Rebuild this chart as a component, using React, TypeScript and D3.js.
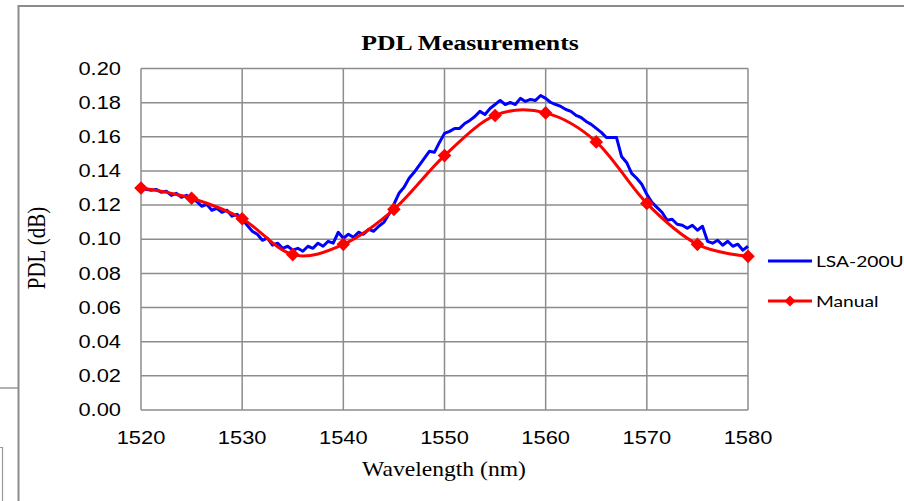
import React from "react";
import * as d3 from "d3";

const manualWavelengths = [1520, 1525, 1530, 1535, 1540, 1545, 1550, 1555, 1560, 1565, 1570, 1575, 1580];
const manualValues = [0.130, 0.124, 0.112, 0.091, 0.097, 0.1175, 0.149, 0.1725, 0.174, 0.157, 0.121, 0.097, 0.090];

const lsaStart = 1520;
const lsaStep = 0.5;
const lsaValues = [
  0.1310, 0.1292, 0.1287, 0.1292, 0.1275, 0.1281, 0.1257, 0.1269, 0.1246, 0.1257,
  0.1240, 0.1222, 0.1193, 0.1205, 0.1170, 0.1181, 0.1158, 0.1170, 0.1135, 0.1146,
  0.1117, 0.1082, 0.1047, 0.1029, 0.0994, 0.1006, 0.0965, 0.0977, 0.0947, 0.0959,
  0.0936, 0.0947, 0.0930, 0.0959, 0.0947, 0.0977, 0.0959, 0.0988, 0.0977, 0.1041,
  0.1006, 0.1029, 0.1012, 0.1041, 0.1029, 0.1058, 0.1047, 0.1076, 0.1099, 0.1146,
  0.1205, 0.1269, 0.1304, 0.1357, 0.1392, 0.1433, 0.1474, 0.1515, 0.1509, 0.1567,
  0.1620, 0.1632, 0.1649, 0.1649, 0.1678, 0.1696, 0.1719, 0.1749, 0.1731, 0.1766,
  0.1789, 0.1813, 0.1789, 0.1801, 0.1789, 0.1825, 0.1807, 0.1819, 0.1813, 0.1842,
  0.1825, 0.1801, 0.1789, 0.1778, 0.1760, 0.1749, 0.1725, 0.1713, 0.1690, 0.1673,
  0.1649, 0.1626, 0.1596, 0.1596, 0.1596, 0.1485, 0.1450, 0.1386, 0.1357, 0.1322,
  0.1263, 0.1216, 0.1187, 0.1158, 0.1111, 0.1117, 0.1088, 0.1082, 0.1064, 0.1082,
  0.1053, 0.1076, 0.0988, 0.0977, 0.0994, 0.0965, 0.0988, 0.0959, 0.0971, 0.0936,
  0.0959,
];

const xTicks = [1520, 1530, 1540, 1550, 1560, 1570, 1580];
const yTicks = [0, 0.02, 0.04, 0.06, 0.08, 0.10, 0.12, 0.14, 0.16, 0.18, 0.20];

const title = "PDL Measurements";
const xTitle = "Wavelength (nm)";
const yTitle = "PDL (dB)";
const seriesNames = ["LSA-200U", "Manual"];

const GRID = "#8c8c8c";

function StretchText(props: {
  x: number; y: number; anchor?: string; size: number; family: string; sx?: number;
  weight?: string; rotate?: number; children: React.ReactNode;
}) {
  const { x, y, anchor = "start", size, family, sx = 1.28, weight = "normal", rotate = 0, children } = props;
  return (
    <text
      transform={`translate(${x},${y}) scale(${sx},1) rotate(${rotate})`}
      textAnchor={anchor}
      fontSize={size}
      fontFamily={family}
      fontWeight={weight}
      fill="#000"
    >
      {children}
    </text>
  );
}

function diamond(cx: number, cy: number, r: number) {
  return `M${cx},${cy - r}L${cx + r},${cy}L${cx},${cy + r}L${cx - r},${cy}Z`;
}

export default function App() {
  const x = d3.scaleLinear().domain([1520, 1580]).range([141, 748]);
  const y = d3.scaleLinear().domain([0, 0.2]).range([410, 68.5]);

  const lsaData = lsaValues.map((v, i) => [lsaStart + i * lsaStep, v] as [number, number]);
  const manualData = manualWavelengths.map((w, i) => [w, manualValues[i]] as [number, number]);

  const lsaLine = d3.line<[number, number]>().x(d => x(d[0])).y(d => y(d[1]))(lsaData) || "";
  const manualLine = d3
    .line<[number, number]>()
    .x(d => x(d[0]))
    .y(d => y(d[1]))
    .curve(d3.curveCardinal.tension(0))(manualData) || "";

  const fmt = d3.format(".2f");
  const tickFont = "'Liberation Sans', Arial, sans-serif";
  const serif = "'Liberation Serif', 'Times New Roman', serif";
  const legendFont = "Lato, 'Open Sans', sans-serif";

  return (
    <svg
      width={904}
      height={501}
      style={{ position: "absolute", left: 0, top: 0, background: "#fff" }}
    >
      <rect x={0} y={0} width={904} height={501} fill="#fff" />
      {/* background frame artifacts */}
      <line x1={0} x2={18} y1={388} y2={388} stroke="#999" strokeWidth={1.5} />
      <polyline points="0,447.5 2.5,447.5 2.5,501" fill="none" stroke="#999" strokeWidth={1.2} />
      {/* outer chart frame */}
      <polyline points="18.5,501 18.5,6 904,6" fill="none" stroke="#8c8c8c" strokeWidth={2} />

      {/* gridlines */}
      {yTicks.map(t => (
        <line key={"gy" + t} x1={x(1520)} x2={x(1580)} y1={y(t)} y2={y(t)} stroke={GRID} strokeWidth={1.5} />
      ))}
      {xTicks.map(t => (
        <line key={"gx" + t} x1={x(t)} x2={x(t)} y1={y(0)} y2={y(0.2)} stroke={GRID} strokeWidth={1.5} />
      ))}

      {/* y tick labels */}
      {yTicks.map(t => (
        <StretchText key={"ly" + t} x={121} y={y(t) + 6.2} anchor="end" size={17.5} sx={1.25} family={tickFont}>
          {fmt(t)}
        </StretchText>
      ))}
      {/* x tick labels */}
      {xTicks.map(t => (
        <StretchText key={"lx" + t} x={x(t)} y={443.5} anchor="middle" size={17.5} sx={1.25} family={tickFont}>
          {t}
        </StretchText>
      ))}

      {/* series */}
      <path d={lsaLine} fill="none" stroke="#0000ff" strokeWidth={3} strokeLinejoin="round" />
      <path d={manualLine} fill="none" stroke="#ff0000" strokeWidth={3} />
      {manualData.map((d, i) => (
        <path key={"m" + i} d={diamond(x(d[0]), y(d[1]), 6.8)} fill="#ff0000" />
      ))}

      {/* titles */}
      <StretchText x={470} y={50} anchor="middle" size={22} sx={1.17} family={serif} weight="bold">
        {title}
      </StretchText>
      <StretchText x={444} y={476} anchor="middle" size={20} sx={1.18} family={serif}>
        {xTitle}
      </StretchText>
      <StretchText x={45} y={248} anchor="middle" size={21} sx={1.15} family={serif} rotate={-90}>
        {yTitle}
      </StretchText>

      {/* legend */}
      <line x1={768} x2={812} y1={261} y2={261} stroke="#0000ff" strokeWidth={3} />
      <StretchText x={816} y={267} size={15.5} sx={1.24} family={legendFont}>
        {seriesNames[0]}
      </StretchText>
      <line x1={768} x2={812} y1={301} y2={301} stroke="#ff0000" strokeWidth={3} />
      <path d={diamond(790, 301, 5.5)} fill="#ff0000" />
      <StretchText x={816} y={307} size={15.5} sx={1.24} family={legendFont}>
        {seriesNames[1]}
      </StretchText>
    </svg>
  );
}
